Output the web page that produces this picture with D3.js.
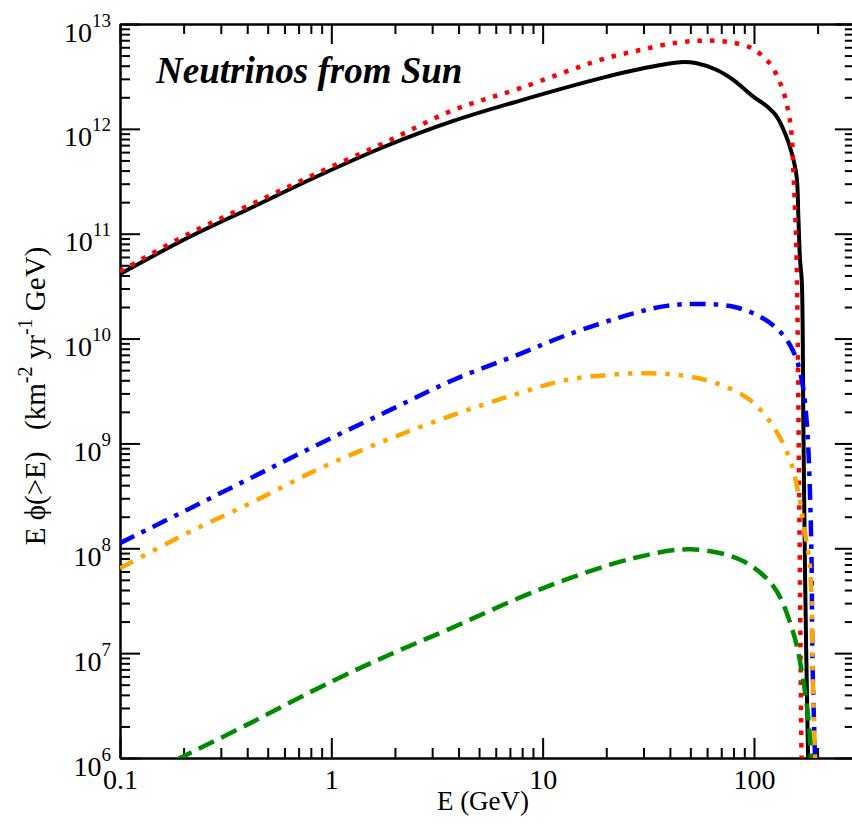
<!DOCTYPE html>
<html><head><meta charset="utf-8">
<script src="https://cdn.jsdelivr.net/npm/d3@7"></script>
<style>body{margin:0;background:#fff} svg{display:block} text{white-space:pre}</style>
</head><body><svg id="c" width="852" height="829"></svg>
<script>
// ---- data (E in GeV, E*phi(>E) in km^-2 yr^-1 GeV) ----
const xTickValues = [0.1, 1, 10, 100];
const xTickLabels = ["0.1", "1", "10", "100"];
const yTickExponents = [6, 7, 8, 9, 10, 11, 12, 13];
const titleText = "Neutrinos from Sun";

// black solid
const totalE    = [0.1, 0.207, 0.428, 0.885, 1.83, 3.78, 7.82, 18.7, 30.0, 44.7, 53.6, 66.7, 80.0, 99.3, 114.8, 128.2, 140.3, 151.0, 159.2, 162.2, 165.2, 168.3, 171.4, 174.6, 180.3, 181.5];
const totalFlux = [4.12e10, 9.04e10, 1.81e11, 3.63e11, 6.9e11, 1.19e12, 1.86e12, 3.03e12, 3.78e12, 4.32e12, 4.22e12, 3.64e12, 2.92e12, 2.03e12, 1.65e12, 1.31e12, 9.06e11, 5.85e11, 3.50e11, 1.45e11, 5.61e10, 3.62e10, 1.34e9, 4.99e7, 1.0e6, 6.0e5];
// red dotted
const redE    = [0.1, 0.207, 0.428, 0.885, 1.83, 3.78, 7.82, 18.7, 28.9, 43.2, 56.6, 74.3, 97.7, 119.1, 135.2, 145.5, 151.0, 153.8, 156.7, 159.2, 163.7, 167.9, 168.8];
const redFlux = [4.37e10, 9.77e10, 1.95e11, 3.89e11, 7.55e11, 1.51e12, 2.44e12, 4.54e12, 5.65e12, 6.64e12, 6.93e12, 6.78e12, 5.86e12, 4.16e12, 2.52e12, 1.46e12, 8.41e11, 3.77e11, 1.57e11, 5.61e10, 3.16e8, 1.0e6, 6.0e5];
// blue dash-dot
const blueE    = [0.1, 0.207, 0.428, 0.885, 1.83, 3.78, 7.82, 13.0, 26.9, 38.6, 55.6, 80.0, 106.9, 133.0, 153.8, 168.3, 177.8, 184.1, 187.5, 188.8, 194.5, 196.0];
const blueFlux = [1.12e8, 2.32e8, 4.82e8, 1.00e9, 2.01e9, 4.03e9, 7.15e9, 1.08e10, 1.74e10, 2.05e10, 2.14e10, 2.01e10, 1.62e10, 1.16e10, 7.50e9, 4.03e9, 1.56e9, 3.35e8, 6.21e7, 1.07e7, 1.0e6, 6.0e5];
// orange dash-dot-dot
const orangeE    = [0.1, 0.207, 0.428, 0.885, 1.83, 3.78, 7.28, 13.0, 22.4, 32.2, 46.3, 66.7, 95.9, 123.6, 148.3, 162.2, 174.6, 184.1, 190.1, 194.5, 196.0];
const orangeFlux = [6.44e7, 1.39e8, 2.78e8, 5.79e8, 1.08e9, 1.87e9, 2.90e9, 4.03e9, 4.56e9, 4.67e9, 4.43e9, 3.74e9, 2.59e9, 1.45e9, 6.95e8, 3.35e8, 1.39e8, 6.68e7, 5.5e6, 1.0e6, 6.0e5];
// green dashed
const greenE    = [0.185, 0.398, 1.0, 1.96, 3.52, 10.0, 26.9, 49.9, 86.7, 123.9, 152.1, 167.9, 181.1, 186.2, 187.5];
const greenFlux = [9.6e5, 2.07e6, 5.35e6, 1.0e7, 1.66e7, 4.15e7, 8.04e7, 9.77e7, 7.73e7, 4.31e7, 1.66e7, 6.92e6, 2.29e6, 1.0e6, 7.0e5];

// ---- layout ----
const X0 = 120, X1 = 854.8, Y0 = 758, Y1 = 24;
const svg = d3.select("#c");
const x = d3.scaleLog().domain([0.1, 300]).range([X0, X1]);
const y = d3.scaleLog().domain([1e6, 1e13]).range([Y0, Y1]);

const FONT = "'Liberation Serif','Times New Roman',serif";

svg.append("defs").append("clipPath").attr("id", "clip")
  .append("rect").attr("x", X0).attr("y", Y1).attr("width", X1 - X0).attr("height", Y0 - Y1);

// minor tick values
const xMinor = [];
for (let d = -1; d <= 2; d++) for (let k = 2; k <= 9; k++) { const v = k * Math.pow(10, d); if (v <= 300) xMinor.push(v); }
const yMinor = [];
for (let d = 6; d <= 12; d++) for (let k = 2; k <= 9; k++) yMinor.push(k * Math.pow(10, d));
const yMajor = yTickExponents.map(e => Math.pow(10, e));

function styleAxis(g) {
  g.selectAll("path.domain").attr("stroke", "#000").attr("stroke-width", 2);
  g.selectAll(".tick line").attr("stroke", "#000").attr("stroke-width", 2);
}
const none = () => "";
// bottom
svg.append("g").attr("transform", `translate(0,${Y0})`)
  .call(d3.axisBottom(x).tickValues(xMinor).tickSize(-10).tickSizeOuter(0).tickFormat(none)).call(styleAxis);
const gxb = svg.append("g").attr("transform", `translate(0,${Y0})`)
  .call(d3.axisBottom(x).tickValues(xTickValues).tickSize(-20).tickSizeOuter(0).tickPadding(8)
    .tickFormat((d, i) => xTickLabels[i])).call(styleAxis);
gxb.selectAll(".tick text").attr("font-family", FONT).attr("font-size", 28).attr("fill", "#000")
  .attr("dy", null).attr("y", 31);
// top
svg.append("g").attr("transform", `translate(0,${Y1})`)
  .call(d3.axisTop(x).tickValues(xMinor).tickSize(-10).tickSizeOuter(0).tickFormat(none)).call(styleAxis);
svg.append("g").attr("transform", `translate(0,${Y1})`)
  .call(d3.axisTop(x).tickValues(xTickValues).tickSize(-20).tickSizeOuter(0).tickFormat(none)).call(styleAxis);
// left
svg.append("g").attr("transform", `translate(${X0},0)`)
  .call(d3.axisLeft(y).tickValues(yMinor).tickSize(-10).tickSizeOuter(0).tickFormat(none)).call(styleAxis);
const gyl = svg.append("g").attr("transform", `translate(${X0},0)`)
  .call(d3.axisLeft(y).tickValues(yMajor).tickSize(-20).tickSizeOuter(0).tickFormat(none)).call(styleAxis);
gyl.selectAll(".tick text").remove();
gyl.selectAll(".tick").each(function (d, i) {
  const t = d3.select(this).append("text").attr("x", -9).attr("y", 17)
    .attr("text-anchor", "end").attr("font-family", FONT).attr("fill", "#000");
  t.append("tspan").attr("font-size", 28).text("10");
  t.append("tspan").attr("font-size", 19).attr("dy", -15).text(String(yTickExponents[i]));
});
// right
svg.append("g").attr("transform", `translate(${X1},0)`)
  .call(d3.axisRight(y).tickValues(yMinor).tickSize(-10).tickSizeOuter(0).tickFormat(none)).call(styleAxis);
svg.append("g").attr("transform", `translate(${X1},0)`)
  .call(d3.axisRight(y).tickValues(yMajor).tickSize(-20).tickSizeOuter(0).tickFormat(none)).call(styleAxis);

// ---- curves ----
const line = d3.line().x(d => x(d[0])).y(d => y(d[1])).curve(d3.curveCatmullRom.alpha(0.5));
const plot = svg.append("g").attr("clip-path", "url(#clip)");
const zip = (a, b) => a.map((v, i) => [v, b[i]]);
const series = [
  { data: zip(totalE, totalFlux), color: "#000000", width: 4, dash: null },
  { data: zip(redE, redFlux), color: "#ff0000", width: 4.5, dash: "4.5,8" },
  { data: zip(blueE, blueFlux), color: "#0000ff", width: 4.5, dash: "16,8,4.5,8" },
  { data: zip(orangeE, orangeFlux), color: "#ffa500", width: 4.5, dash: "15,9,4.5,9,4.5,9" },
  { data: zip(greenE, greenFlux), color: "#008b00", width: 4.5, dash: "17,8" }
];
series.forEach(s => {
  plot.append("path").attr("d", line(s.data)).attr("fill", "none")
    .attr("stroke", s.color).attr("stroke-width", s.width)
    .attr("stroke-dasharray", s.dash).attr("stroke-linejoin", "round");
});

// ---- texts ----
svg.append("text").attr("x", 156).attr("y", 83).attr("font-family", FONT)
  .attr("font-size", 37).attr("font-weight", "bold").attr("font-style", "italic").attr("fill", "#000")
  .text(titleText);

svg.append("text").attr("x", 483).attr("y", 810).attr("text-anchor", "middle")
  .attr("font-family", FONT).attr("font-size", 27).attr("fill", "#000").text("E (GeV)");

const yl = svg.append("text").attr("transform", "translate(45,396) rotate(-90)")
  .attr("text-anchor", "middle").attr("font-family", FONT).attr("font-size", 29).attr("fill", "#000");
yl.append("tspan").text("E \u03D5(>E)   (km");
yl.append("tspan").attr("font-size", 20).attr("dy", -13).text("-2");
yl.append("tspan").attr("dy", 13).text(" yr");
yl.append("tspan").attr("font-size", 20).attr("dy", -13).text("-1");
yl.append("tspan").attr("dy", 13).text(" GeV)");
</script></body></html>
